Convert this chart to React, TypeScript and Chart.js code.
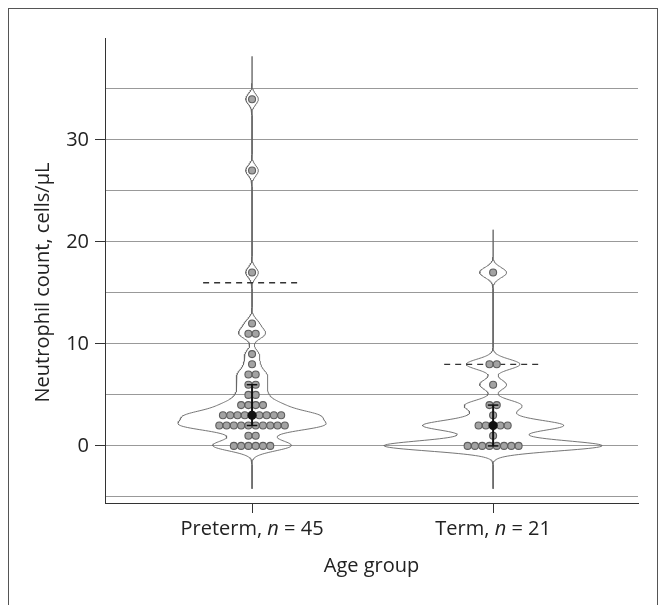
import React, { useEffect, useRef } from 'react';
import { Chart, registerables } from 'chart.js';
Chart.register(...registerables);

// ---- data ----
const groupNames = ['Preterm', 'Term'];
const groupN = [45, 21];
// distinct observed values and the number of infants at each value
const pretermValues = [0, 1, 2, 3, 4, 5, 6, 7, 8, 9, 11, 12, 17, 27, 34];
const pretermCounts = [6, 2, 10, 9, 4, 2, 2, 2, 1, 1, 2, 1, 1, 1, 1];
const termValues = [0, 1, 2, 3, 4, 6, 8, 17];
const termCounts = [8, 1, 5, 1, 2, 1, 2, 1];
const cutoffValues = [16, 8];
const yTickValues = [-5, 0, 5, 10, 15, 20, 25, 30, 35];
const yLabelledTicks = [0, 10, 20, 30];

// ---- style constants ----
const FONT = '"Open Sans", "Noto Sans", sans-serif';
const FS = 20;
const bandwidth = 0.5;
const tailExtension = 4.2;
const violinMaxHalfWidth = 0.452;
const dotSpacing = 0.0302;
const dashHalf = 0.203;
const capHalf = 0.022;

function expand(values: number[], counts: number[]) {
  const out: number[] = [];
  values.forEach((v, i) => { for (let k = 0; k < counts[i]; k++) out.push(v); });
  return out.sort((a, b) => a - b);
}
function quantile(sorted: number[], p: number) {
  const pos = (sorted.length + 1) * p - 1;
  const lo = Math.max(0, Math.floor(pos));
  const hi = Math.min(sorted.length - 1, lo + 1);
  const f = pos - lo;
  return sorted[lo] + (sorted[hi] - sorted[lo]) * f;
}
function kde(obs: number[], y: number) {
  let s = 0;
  for (const o of obs) {
    const z = (y - o) / bandwidth;
    s += Math.exp(-0.5 * z * z);
  }
  return s / (obs.length * bandwidth * Math.sqrt(2 * Math.PI));
}

const groupsData = [
  { values: pretermValues, counts: pretermCounts },
  { values: termValues, counts: termCounts },
];

function buildDatasets() {
  const datasets: any[] = [];
  const profiles = groupsData.map((g) => {
    const obs = expand(g.values, g.counts);
    const lo = obs[0] - tailExtension;
    const hi = obs[obs.length - 1] + tailExtension;
    const ys: number[] = [];
    for (let y = lo; y <= hi + 1e-9; y += 0.05) ys.push(y);
    const ds = ys.map((y) => kde(obs, y));
    return { obs, ys, ds };
  });
  const maxD = Math.max(...profiles.map((p) => Math.max(...p.ds)));
  const scale = violinMaxHalfWidth / maxD;

  profiles.forEach((p, gi) => {
    const pos = gi;
    const right = p.ys.map((y, i) => ({ x: pos + p.ds[i] * scale, y }));
    const left = p.ys.map((y, i) => ({ x: pos - p.ds[i] * scale, y })).reverse();
    const poly = [...right, ...left, right[0]];
    datasets.push({
      type: 'line', data: poly, showLine: true, pointRadius: 0, borderColor: '#666',
      borderWidth: 0.9, fill: false, tension: 0, order: 5,
    });

    // cutoff dashed line
    datasets.push({
      type: 'line', data: [{ x: pos - dashHalf, y: cutoffValues[gi] }, { x: pos + dashHalf, y: cutoffValues[gi] }],
      showLine: true, pointRadius: 0, borderColor: '#333', borderWidth: 1.3, borderDash: [6, 5], order: 4,
    });

    // dots
    const g = groupsData[gi];
    const pts: { x: number; y: number }[] = [];
    g.values.forEach((v, i) => {
      const c = g.counts[i];
      for (let k = 0; k < c; k++) pts.push({ x: pos + (k - (c - 1) / 2) * dotSpacing, y: v });
    });
    datasets.push({
      type: 'scatter', data: pts, pointRadius: 3.5, pointBackgroundColor: '#a3a3a3',
      pointBorderColor: '#5e5e5e', pointBorderWidth: 1.1, showLine: false, order: 3,
    });

    // IQR
    const q1 = quantile(p.obs, 0.25);
    const q3 = quantile(p.obs, 0.75);
    const med = quantile(p.obs, 0.5);
    datasets.push({
      type: 'line', data: [{ x: pos, y: q1 }, { x: pos, y: q3 }], showLine: true, pointRadius: 0,
      borderColor: '#111', borderWidth: 2, order: 2,
    });
    [q1, q3].forEach((q) => {
      datasets.push({
        type: 'line', data: [{ x: pos - capHalf, y: q }, { x: pos + capHalf, y: q }], showLine: true,
        pointRadius: 0, borderColor: '#111', borderWidth: 1.5, order: 2,
      });
    });
    datasets.push({
      type: 'scatter', data: [{ x: pos, y: med }], pointRadius: 4.6, pointBackgroundColor: '#111',
      pointBorderColor: '#111', pointBorderWidth: 0, order: 1,
    });
  });
  return datasets;
}

const labelPlugin = {
  id: 'customLabels',
  afterDraw(chart: any) {
    const ctx = chart.ctx as CanvasRenderingContext2D;
    const xs = chart.scales.x;
    const ca = chart.chartArea;
    const normal = `${FS}px ${FONT}`;
    const italic = `italic ${FS}px ${FONT}`;
    ctx.save();
    ctx.fillStyle = '#222';
    ctx.textBaseline = 'middle';
    ctx.textAlign = 'left';
    groupNames.forEach((name, i) => {
      const parts: [string, string][] = [[name + ', ', normal], ['n', italic], [' = ' + groupN[i], normal]];
      let total = 0;
      parts.forEach(([t, f]) => { ctx.font = f; total += ctx.measureText(t).width; });
      let x = xs.getPixelForValue(i) - total / 2;
      const y = xs.top + 26;
      parts.forEach(([t, f]) => { ctx.font = f; ctx.fillText(t, x, y); x += ctx.measureText(t).width; });
    });
    ctx.font = normal;
    ctx.textAlign = 'center';
    ctx.fillText('Age group', (ca.left + ca.right) / 2, xs.top + 63);
    ctx.translate(34, (ca.top + ca.bottom) / 2 + 12);
    ctx.rotate(-Math.PI / 2);
    ctx.fillText('Neutrophil count, cells/μL', 0, 0);
    ctx.restore();
  },
};

export default function App() {
  const ref = useRef<HTMLCanvasElement | null>(null);
  useEffect(() => {
    if (!ref.current) return;
    const chart = new Chart(ref.current, {
      type: 'scatter',
      data: { datasets: buildDatasets() },
      options: {
        animation: false,
        responsive: false,
        layout: { padding: { left: 0, top: 29, right: 19, bottom: 0 } },
        plugins: { legend: { display: false }, tooltip: { enabled: false } },
        scales: {
          x: {
            type: 'linear', min: -0.61, max: 1.601,
            afterBuildTicks: (s: any) => { s.ticks = [0, 1].map((v) => ({ value: v })); },
            afterFit: (s: any) => { s.height = 106; },
            ticks: { callback: () => '', font: { size: FS, family: FONT } },
            grid: { drawOnChartArea: false, drawTicks: true, tickLength: 10, tickColor: '#333' },
            border: { display: true, color: '#333', width: 1 },
          },
          y: {
            type: 'linear', min: -5.6, max: 40,
            afterBuildTicks: (s: any) => { s.ticks = yTickValues.map((v) => ({ value: v })); },
            afterFit: (s: any) => { s.width = 96; },
            ticks: {
              callback: (v: any) => (yLabelledTicks.includes(Number(v)) ? String(v) : ''),
              font: { size: FS, family: FONT }, color: '#222', padding: 6,
            },
            grid: {
              color: '#999', lineWidth: 1, drawTicks: true, tickLength: 10,
              tickColor: (c: any) => (c.tick && yLabelledTicks.includes(c.tick.value) ? '#333' : 'rgba(0,0,0,0)'),
            },
            border: { display: true, color: '#333', width: 1 },
          },
        },
      },
      plugins: [labelPlugin],
    } as any);
    return () => chart.destroy();
  }, []);
  return (
    <div style={{ width: 650, height: 602, border: '1px solid #555', boxSizing: 'border-box', overflow: 'hidden' }}>
      <canvas ref={ref} width={648} height={600} style={{ display: 'block' }} />
    </div>
  );
}
